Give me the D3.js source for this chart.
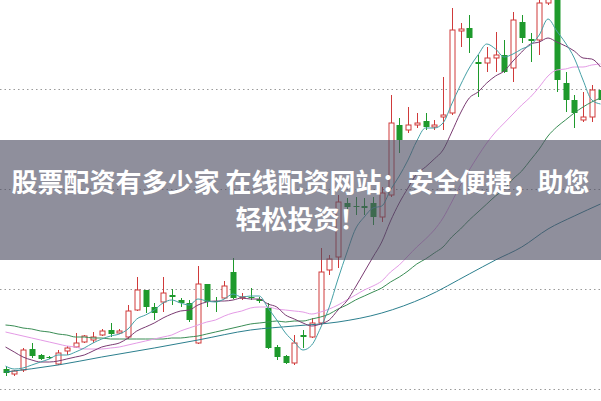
<!DOCTYPE html>
<html><head><meta charset="utf-8">
<script src="https://cdn.jsdelivr.net/npm/d3@7"></script>
<style>html,body{margin:0;padding:0;background:#fff;overflow:hidden}</style>
</head><body><svg id="c" width="601" height="401"></svg>
<script>
// ---- data ----
const open = [6.21,6.16,6.20,6.41,6.35,6.33,6.26,6.39,6.43,6.48,
 6.50,6.55,6.60,6.57,6.53,6.80,7.00,6.83,6.88,6.95,
 6.90,6.87,6.47,7.06,6.89,6.92,7.18,6.92,6.93,6.91,
 6.82,6.43,6.34,6.27,6.55,6.53,6.67,7.20,7.33,7.87,
 7.84,7.84,7.87,7.73,7.95,8.65,8.60,8.65,8.69,8.63,
 8.73,8.77,9.59,9.62,9.28,9.27,9.32,9.35,9.22,9.68,
 9.51,9.50,9.87,9.95,9.07,8.90,8.70,8.73,9.00];
const high = [6.24,6.20,6.42,6.47,6.36,6.34,6.40,6.44,6.57,6.55,
 6.58,6.61,6.67,6.61,6.85,7.13,7.00,6.87,7.13,7.01,
 6.92,6.90,7.24,7.06,6.93,7.09,7.32,6.97,7.02,6.93,
 6.87,6.45,6.35,6.55,6.60,6.72,7.42,7.35,7.95,7.92,
 7.93,7.92,7.93,8.03,8.95,8.72,8.83,8.77,8.77,8.70,
 9.13,9.82,9.67,9.75,9.35,9.43,9.58,9.50,9.78,9.75,
 9.57,9.95,10.05,10.02,9.18,8.95,8.98,9.05,9.10];
const low = [6.14,6.14,6.18,6.32,6.30,6.31,6.25,6.35,6.42,6.47,
 6.47,6.54,6.53,6.56,6.51,6.79,6.77,6.70,6.78,6.85,
 6.83,6.68,6.46,6.83,6.78,6.91,6.91,6.90,6.90,6.87,
 6.41,6.30,6.26,6.25,6.42,6.52,6.65,7.15,7.22,7.78,
 7.75,7.75,7.65,7.68,7.93,8.37,8.57,8.62,8.60,8.60,
 8.60,8.75,9.43,9.37,8.93,9.18,9.18,9.17,9.08,9.47,
 9.28,9.35,9.85,8.98,8.78,8.62,8.68,8.68,8.85];
const close = [6.17,6.19,6.40,6.34,6.31,6.32,6.37,6.42,6.47,6.54,
 6.53,6.59,6.56,6.59,6.79,7.00,6.83,6.77,6.97,6.93,
 6.87,6.70,7.06,6.88,6.88,7.04,6.92,6.93,6.92,6.89,
 6.42,6.33,6.27,6.47,6.53,6.67,7.18,7.31,7.88,7.83,
 7.83,7.82,7.73,7.97,8.67,8.50,8.65,8.67,8.63,8.65,
 8.75,9.60,9.61,9.52,9.26,9.32,9.35,9.18,9.70,9.52,
 9.49,9.87,9.98,9.10,8.90,8.77,8.73,9.00,8.90];

const ma5 = [6.24,6.21,6.22,6.25,6.28,6.31,6.35,6.35,6.38,6.42,
 6.47,6.51,6.54,6.56,6.61,6.71,6.75,6.80,6.87,6.90,
 6.87,6.85,6.91,6.89,6.88,6.91,6.96,6.93,6.94,6.94,
 6.82,6.70,6.57,6.48,6.40,6.45,6.62,6.83,7.11,7.37,
 7.61,7.73,7.82,7.84,8.00,8.14,8.30,8.49,8.62,8.62,
 8.67,8.86,9.05,9.22,9.35,9.46,9.41,9.33,9.36,9.41,
 9.45,9.55,9.71,9.59,9.47,9.32,9.10,8.90,8.86];
const ma10 = [6.43,6.38,6.33,6.30,6.28,6.28,6.29,6.31,6.33,6.35,
 6.39,6.43,6.45,6.47,6.52,6.59,6.63,6.67,6.72,6.76,
 6.79,6.80,6.85,6.88,6.89,6.89,6.90,6.92,6.91,6.91,
 6.86,6.83,6.75,6.71,6.67,6.64,6.66,6.70,6.80,6.89,
 7.03,7.18,7.33,7.48,7.69,7.87,8.02,8.16,8.23,8.31,
 8.40,8.58,8.77,8.92,8.98,9.07,9.14,9.19,9.29,9.38,
 9.46,9.48,9.52,9.48,9.44,9.39,9.32,9.31,9.23];
const ma20 = [6.58,6.56,6.54,6.52,6.50,6.48,6.46,6.44,6.43,6.41,
 6.41,6.41,6.42,6.43,6.45,6.47,6.49,6.51,6.53,6.55,
 6.59,6.62,6.65,6.68,6.70,6.74,6.77,6.79,6.82,6.83,
 6.83,6.81,6.80,6.79,6.78,6.76,6.78,6.81,6.85,6.90,
 6.95,7.00,7.04,7.09,7.18,7.25,7.34,7.43,7.51,7.60,
 7.72,7.88,8.05,8.20,8.34,8.47,8.58,8.67,8.76,8.85,
 8.93,9.03,9.14,9.20,9.21,9.23,9.23,9.25,9.26];
const ma30 = [6.65,6.64,6.62,6.61,6.59,6.58,6.56,6.55,6.53,6.53,
 6.52,6.52,6.51,6.51,6.51,6.51,6.51,6.51,6.51,6.52,
 6.52,6.53,6.54,6.56,6.58,6.60,6.62,6.64,6.66,6.67,
 6.68,6.69,6.68,6.69,6.69,6.71,6.73,6.76,6.81,6.85,
 6.90,6.94,6.98,7.02,7.08,7.13,7.19,7.26,7.31,7.37,
 7.43,7.53,7.61,7.70,7.78,7.86,7.94,8.01,8.11,8.19,
 8.30,8.41,8.54,8.63,8.70,8.77,8.83,8.88,8.92];
const ma60Index = [0,6,11,17,22,28,33,38,43,48,53,56,59,62,65,68];
const ma60 = [6.18,6.25,6.33,6.42,6.50,6.60,6.64,6.68,6.77,6.93,7.16,7.30,7.43,7.61,7.74,7.86];

const gridPrices = [6, 7, 8, 9];
const titleLines = ["股票配资有多少家 在线配资网站：安全便捷，助您", "轻松投资！"];

// ---- drawing ----
const W = 601, H = 401;
const svg = d3.select("#c");
svg.append("rect").attr("width", W).attr("height", H).attr("fill", "#fff");
const n = open.length;
const x = d3.scalePoint().domain(d3.range(n)).range([5.5, 600.5]);
const y = d3.scaleLinear().domain([6, 9]).range([390, 90]);

const RED = "#d03a3a", GREEN = "#1e9a2c";

svg.append("g").selectAll("line").data(gridPrices).join("line")
  .attr("x1", 0).attr("x2", W)
  .attr("y1", d => Math.round(y(d)) - 0.5).attr("y2", d => Math.round(y(d)) - 0.5)
  .attr("stroke", "#9a9a9a").attr("stroke-width", 1).attr("stroke-dasharray", "1.5,3");

const candles = d3.range(n).map(i => ({i, o: open[i], h: high[i], l: low[i], c: close[i], up: close[i] >= open[i]}));
const cg = svg.append("g");
const cx = d => Math.round(x(d.i)) + 0.5;
cg.selectAll("line.w").data(candles).join("line").attr("class", "w")
  .attr("x1", cx).attr("x2", cx)
  .attr("y1", d => y(d.h)).attr("y2", d => y(d.l))
  .attr("stroke", d => d.up ? RED : GREEN).attr("stroke-width", 1);
cg.selectAll("rect.b").data(candles).join("rect").attr("class", "b")
  .attr("x", d => d.up ? cx(d) - 2.5 : cx(d) - 3)
  .attr("width", d => d.up ? 5 : 6)
  .attr("y", d => Math.min(y(d.o), y(d.c)))
  .attr("height", d => Math.max(1, Math.abs(y(d.o) - y(d.c))))
  .attr("fill", d => d.up ? "#fff" : GREEN)
  .attr("stroke", d => d.up ? RED : "none").attr("stroke-width", 1);

const series = [
  {vals: ma60, idx: ma60Index, color: "#2c7f8e"},
  {vals: ma30, idx: d3.range(n), color: "#3a8d55"},
  {vals: ma20, idx: d3.range(n), color: "#e49be6"},
  {vals: ma10, idx: d3.range(n), color: "#7a3b72"},
  {vals: ma5,  idx: d3.range(n), color: "#45a0a6"}
];
const line = d3.line().x(d => x(d[0])).y(d => y(d[1])).curve(d3.curveMonotoneX);
svg.append("g").selectAll("path").data(series).join("path")
  .attr("d", s => line(s.idx.map((k, j) => [k, s.vals[j]])))
  .attr("fill", "none").attr("stroke", s => s.color).attr("stroke-width", 1);

// banner
svg.append("rect").attr("x", 0).attr("y", 140).attr("width", W).attr("height", 120)
  .attr("fill", "rgb(80,80,100)").attr("fill-opacity", 0.64);
svg.append("g").selectAll("text").data(titleLines).join("text")
  .attr("x", W / 2).attr("y", (d, i) => 192 + i * 37)
  .attr("text-anchor", "middle")
  .attr("font-family", "'Noto Sans CJK SC', sans-serif")
  .attr("font-weight", "bold").attr("font-size", 26)
  .attr("fill", "#fff").text(d => d);
</script></body></html>
